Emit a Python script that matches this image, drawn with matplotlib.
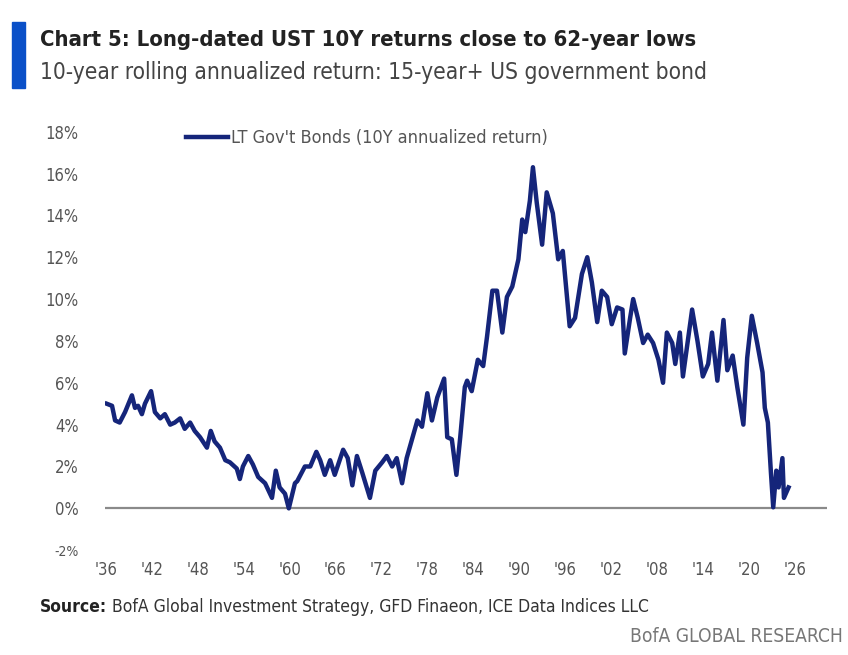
import matplotlib
matplotlib.use('Agg')
import matplotlib.pyplot as plt
from matplotlib.patches import Rectangle

plt.rcParams['font.family'] = ['DejaVu Sans']
plt.rcParams['font.stretch'] = 'condensed'

# 10Y rolling annualized return, LT gov't bonds
years = [1936.1, 1936.8, 1937.2, 1937.8, 1938.5, 1939.4, 1939.8, 1940.2, 1940.7, 1941.1,
         1941.9, 1942.4, 1943.1, 1943.7, 1944.4, 1945.0, 1945.7, 1946.3, 1947.0, 1947.6,
         1948.3, 1949.2, 1949.7, 1950.2, 1950.9, 1951.6, 1952.2, 1953.1, 1953.5, 1953.9,
         1954.6, 1955.2, 1955.9, 1956.8, 1957.7, 1958.2, 1958.7, 1959.4, 1959.9, 1960.7,
         1961.0, 1962.0, 1962.7, 1963.5, 1964.0, 1964.6, 1965.3, 1965.9, 1967.0, 1967.6,
         1968.2, 1968.8, 1969.5, 1970.5, 1971.2, 1972.1, 1972.7, 1973.4, 1974.0, 1974.7,
         1975.3, 1976.0, 1976.7, 1977.3, 1978.0, 1978.6, 1979.3, 1980.2, 1980.6, 1981.2,
         1981.8, 1982.3, 1982.9, 1983.2, 1983.8, 1984.6, 1985.3, 1985.8, 1986.5, 1987.1,
         1987.8, 1988.4, 1989.1, 1989.9, 1990.4, 1990.8, 1991.4, 1991.8, 1992.3, 1993.0,
         1993.6, 1994.4, 1995.1, 1995.7, 1996.6, 1997.3, 1998.2, 1998.9, 1999.5, 2000.2,
         2000.8, 2001.5, 2002.1, 2002.8, 2003.5, 2003.8, 2004.5, 2004.9, 2005.5, 2006.2,
         2006.8, 2007.5, 2008.2, 2008.8, 2009.3, 2010.0, 2010.4, 2011.0, 2011.4, 2012.6,
         2013.3, 2014.0, 2014.7, 2015.2, 2015.9, 2016.7, 2017.2, 2017.9, 2018.5, 2019.3,
         2019.8, 2020.4, 2021.1, 2021.8, 2022.1, 2022.5, 2022.9, 2023.2, 2023.6, 2023.9,
         2024.4, 2024.6, 2025.2]
returns = [5.0, 4.9, 4.2, 4.1, 4.6, 5.4, 4.8, 4.9, 4.5, 5.0,
           5.6, 4.6, 4.3, 4.5, 4.0, 4.1, 4.3, 3.8, 4.1, 3.7,
           3.4, 2.9, 3.7, 3.2, 2.9, 2.3, 2.2, 1.9, 1.4, 2.0,
           2.5, 2.1, 1.5, 1.2, 0.5, 1.8, 1.0, 0.7, 0.0, 1.2,
           1.3, 2.0, 2.0, 2.7, 2.3, 1.6, 2.3, 1.6, 2.8, 2.4,
           1.1, 2.5, 1.7, 0.5, 1.8, 2.2, 2.5, 2.0, 2.4, 1.2,
           2.4, 3.3, 4.2, 3.9, 5.5, 4.2, 5.3, 6.2, 3.4, 3.3,
           1.6, 3.4, 5.8, 6.1, 5.6, 7.1, 6.8, 8.2, 10.4, 10.4,
           8.4, 10.1, 10.6, 11.9, 13.8, 13.2, 14.7, 16.3, 14.6, 12.6,
           15.1, 14.1, 11.9, 12.3, 8.7, 9.1, 11.2, 12.0, 10.8, 8.9,
           10.4, 10.1, 8.8, 9.6, 9.5, 7.4, 9.1, 10.0, 9.1, 7.9,
           8.3, 7.9, 7.1, 6.0, 8.4, 7.9, 6.9, 8.4, 6.3, 9.5,
           8.0, 6.3, 6.9, 8.4, 6.1, 9.0, 6.6, 7.3, 5.8, 4.0,
           7.2, 9.2, 7.9, 6.5, 4.8, 4.1, 1.7, 0.05, 1.8, 1.0,
           2.4, 0.5, 1.0]

xticks = list(range(1936, 2027, 6))
xlabels = ["'" + str(y)[2:] for y in xticks]
yticks = list(range(-2, 19, 2))

fig = plt.figure(figsize=(8.48, 6.55), dpi=100)
ax = fig.add_axes([0.124, 0.160, 0.851, 0.639])

ax.plot(years, returns, color='#15257a', lw=3.2, label="LT Gov't Bonds (10Y annualized return)")
ax.axhline(0, color='#8a8a8a', lw=1.6, zorder=1)

ax.set_xlim(1935.9, 2030.2)
ax.set_ylim(-2, 18)
ax.set_xticks(xticks)
ax.set_xticklabels(xlabels)
ax.set_yticks(yticks)
ax.set_yticklabels([str(v) + '%' for v in yticks])
ax.tick_params(length=0, labelsize=12, labelcolor='#555555')
ax.tick_params(axis='y', pad=19)
ax.tick_params(axis='x', pad=8)
ax.get_yticklabels()[0].set_fontsize(10)
for s in ax.spines.values():
    s.set_visible(False)

leg = ax.legend(loc='upper left', bbox_to_anchor=(0.09, 1.045), frameon=False,
                fontsize=13, handlelength=2.3, handletextpad=0.15)
for t in leg.get_texts():
    t.set_color('#555555')

# header
fig.patches.append(Rectangle((12 / 848, 1 - 88 / 655), 13 / 848, 66 / 655,
                             transform=fig.transFigure, color='#0a50c8'))
fig.text(40 / 848, 1 - 40 / 655, 'Chart 5: Long-dated UST 10Y returns close to 62-year lows',
         fontsize=15.8, fontweight='bold', color='#222222', va='center')
fig.text(40 / 848, 1 - 73 / 655, '10-year rolling annualized return: 15-year+ US government bond',
         fontsize=16.3, color='#444444', va='center')

# footer
src = fig.text(40 / 848, 1 - 607 / 655, 'Source:', fontsize=12.5, fontweight='bold',
               color='#222222', va='center')
fig.canvas.draw()
bb = src.get_window_extent()
fig.text(bb.x1 / fig.bbox.width, 1 - 607 / 655,
         ' BofA Global Investment Strategy, GFD Finaeon, ICE Data Indices LLC',
         fontsize=12.5, color='#333333', va='center')
fig.text(843 / 848, 1 - 636 / 655, 'BofA GLOBAL RESEARCH', fontsize=13.8,
         color='#777777', va='center', ha='right')

fig.savefig('out.png', dpi=100, facecolor='white')
